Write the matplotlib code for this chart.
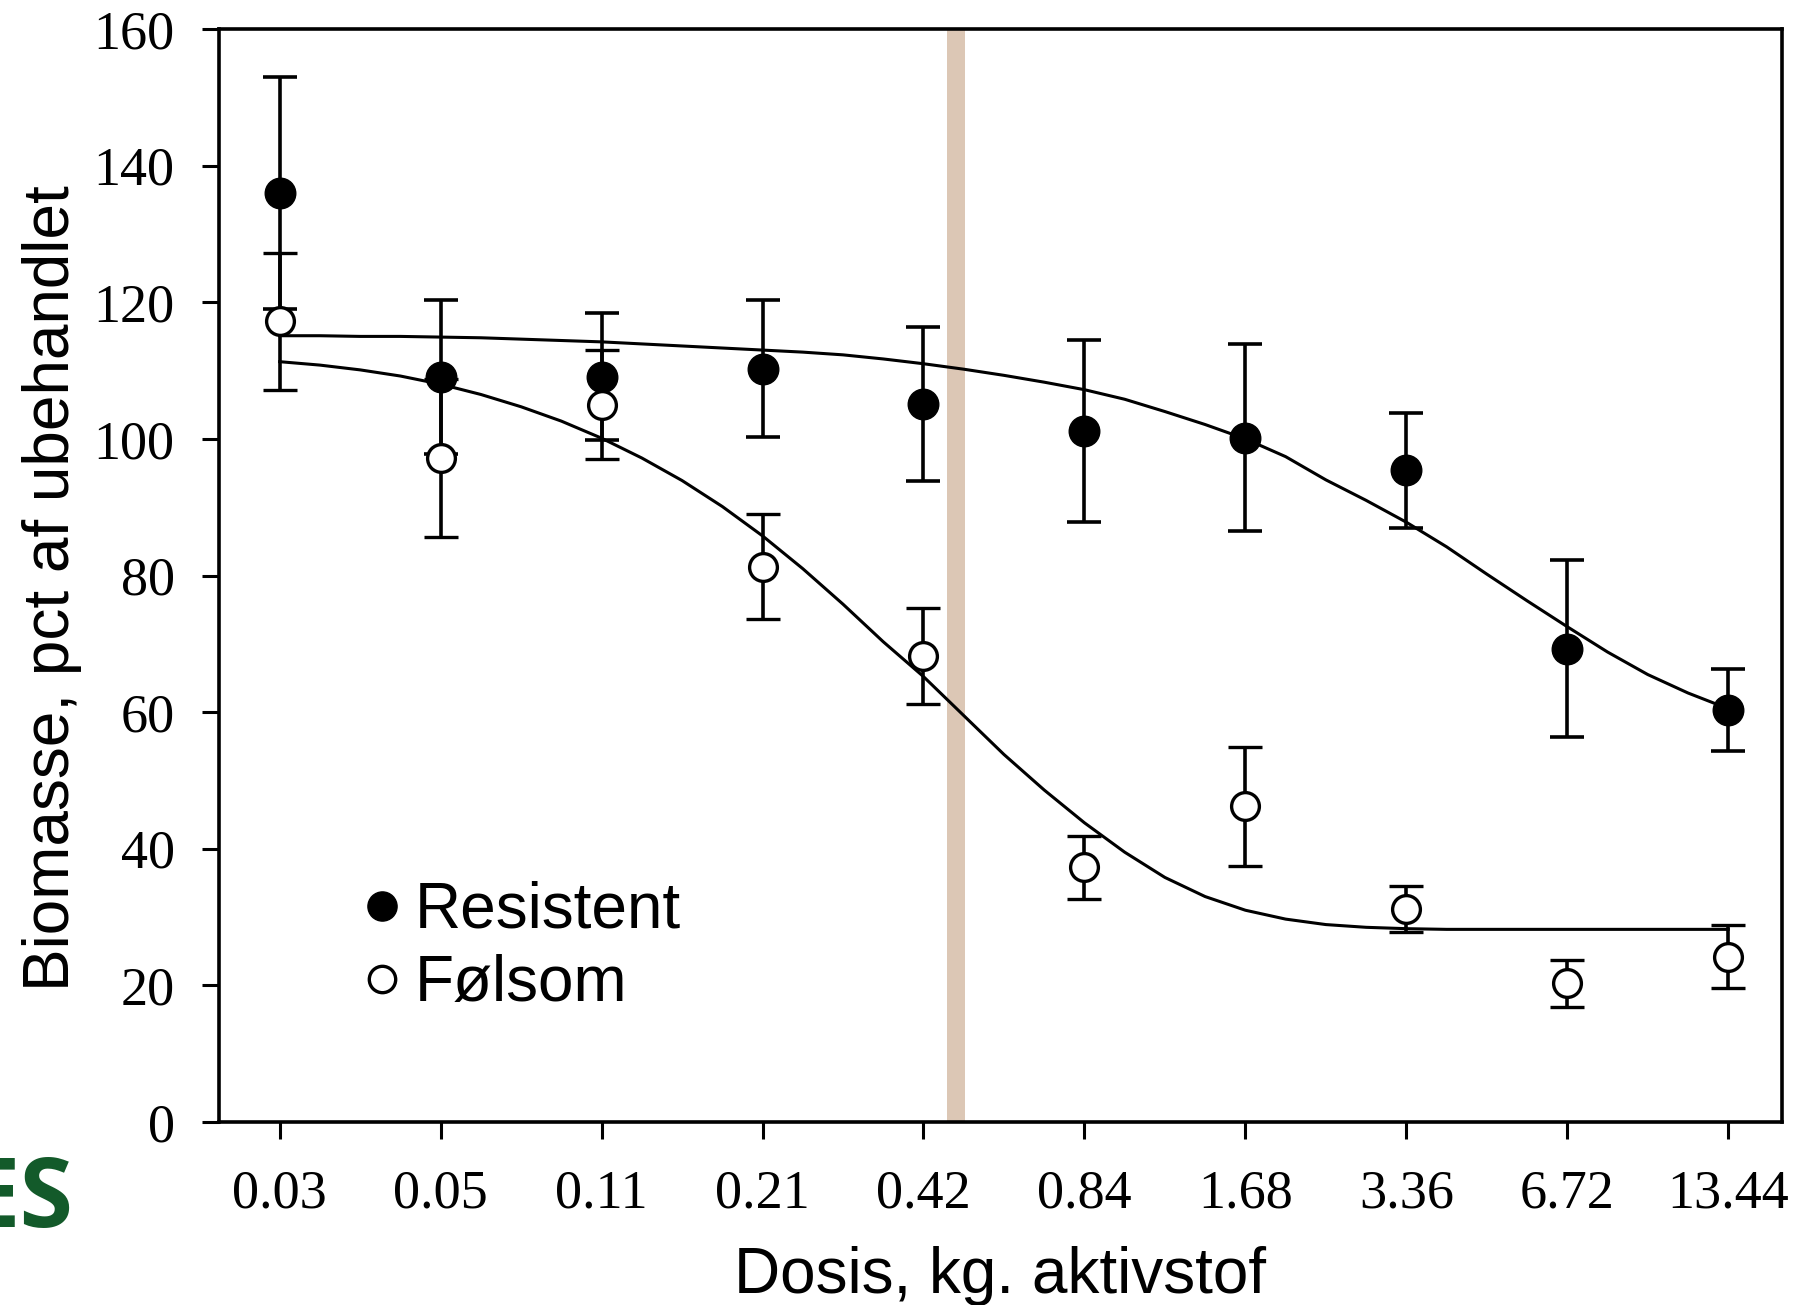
import matplotlib
matplotlib.use("Agg")
import matplotlib.pyplot as plt
from matplotlib.lines import Line2D
import numpy as np

# ---- data ----
doses = ["0.03", "0.05", "0.11", "0.21", "0.42", "0.84", "1.68", "3.36", "6.72", "13.44"]

resistent_mean = [136.0, 109.1, 109.1, 110.3, 105.1, 101.2, 100.2, 95.4, 69.3, 60.3]
resistent_err = [17.0, 11.3, 9.3, 10.0, 11.3, 13.3, 13.7, 8.4, 13.0, 6.0]

folsom_mean = [117.2, 97.2, 105.0, 81.3, 68.2, 37.3, 46.2, 31.2, 20.3, 24.2]
folsom_err = [10.0, 11.6, 8.0, 7.7, 7.0, 4.6, 8.7, 3.4, 3.4, 4.6]

# fitted curves, read at quarter steps of the dose axis
curve_pos = [i * 0.25 for i in range(37)]
resistent_fit = [115.1, 115.1, 115.0, 115.0, 114.9, 114.8, 114.6, 114.4, 114.2,
                 113.9, 113.6, 113.3, 113.0, 112.7, 112.3, 111.7, 111.0, 110.2,
                 109.3, 108.3, 107.2, 105.8, 104.0, 102.1, 100.0, 97.4, 94.0,
                 91.0, 87.8, 84.2, 80.2, 76.3, 72.5, 68.8, 65.5, 62.8, 60.5]
folsom_fit = [111.3, 110.8, 110.1, 109.2, 108.0, 106.5, 104.7, 102.6, 100.1,
              97.2, 93.9, 90.1, 85.8, 81.0, 75.8, 70.3, 65.2, 59.5, 53.8, 48.6,
              43.8, 39.5, 35.8, 33.0, 31.0, 29.7, 28.9, 28.5, 28.3, 28.2, 28.2,
              28.2, 28.2, 28.2, 28.2, 28.2, 28.2]

band_pos = 4.2  # highlighted dose position (between 0.42 and 0.84)

# ---- figure ----
W, H = 1797, 1305
fig = plt.figure(figsize=(W / 100, H / 100), dpi=100)
ax = fig.add_axes([219 / W, 1 - 1122 / H, (1782 - 219) / W, (1122 - 29) / H])

x = np.arange(len(doses))

ax.axvspan(band_pos - 0.057, band_pos + 0.057, color="#DCC7B5", zorder=0, lw=0)

ax.plot(curve_pos, resistent_fit, color="black", lw=2.2, zorder=2)
ax.plot(curve_pos, folsom_fit, color="black", lw=2.2, zorder=2)

ax.errorbar(x, resistent_mean, yerr=resistent_err, fmt="o", color="black",
            ms=22, mfc="black", mec="black", ecolor="black", elinewidth=2.6,
            capsize=12.5, capthick=2.6, zorder=3)
ax.errorbar(x, folsom_mean, yerr=folsom_err, fmt="o", color="black",
            ms=20, mfc="white", mec="black", mew=2.4, ecolor="black",
            elinewidth=2.6, capsize=12.5, capthick=2.6, zorder=4)

ax.set_xlim(-0.377, 9.334)
ax.set_ylim(0, 160)
ax.set_xticks(x)
ax.set_xticklabels(doses)
ax.set_yticks(np.arange(0, 161, 20))

for s in ax.spines.values():
    s.set_linewidth(2.6)
ax.tick_params(axis="both", direction="out", length=12, width=2.2, labelsize=39)
ax.tick_params(axis="x", pad=22)
ax.tick_params(axis="y", pad=20)
for lab in ax.get_xticklabels() + ax.get_yticklabels():
    lab.set_family("Liberation Serif")

ax.set_xlabel("Dosis, kg. aktivstof", family="Liberation Sans", fontsize=46,
              labelpad=19)
ax.set_ylabel("Biomasse, pct af ubehandlet", family="Liberation Sans",
              fontsize=46, labelpad=8)
ax.yaxis.label.set_y(0.488)

handles = [
    Line2D([], [], ls="none", marker="o", ms=21, mfc="black", mec="black"),
    Line2D([], [], ls="none", marker="o", ms=19, mfc="white", mec="black", mew=2.4),
]
leg = ax.legend(handles, ["Resistent", "Følsom"], loc="upper left",
                bbox_to_anchor=(0.0934, 0.2205), frameon=False,
                handlelength=0.52, handletextpad=0.26, labelspacing=0.21,
                borderpad=0, borderaxespad=0,
                prop={"family": "Liberation Sans", "size": 46})

fig.text(73 / W, 1 - 1201 / H, "ES", color="#135A2A", fontsize=70,
         fontweight="bold", family="Open Sans", ha="right", va="center")

fig.savefig("out.png", dpi=100)
